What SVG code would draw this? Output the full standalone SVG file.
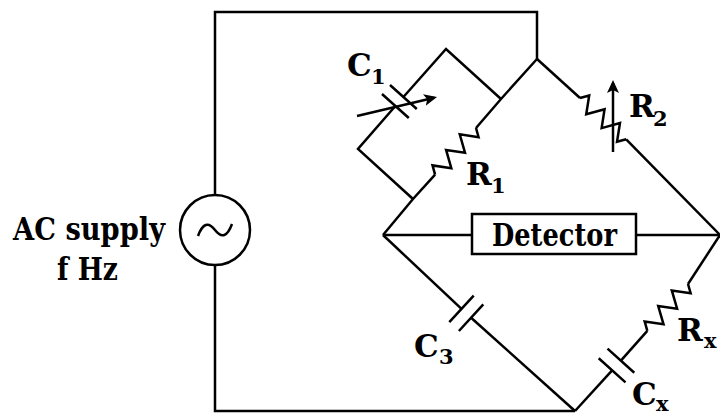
<svg xmlns="http://www.w3.org/2000/svg" xmlns:xlink="http://www.w3.org/1999/xlink" width="720" height="416" viewBox="0 0 720 416">
<style>
.w{fill:none;stroke:#000;stroke-width:2.5;stroke-linejoin:miter;stroke-linecap:butt}
.t{font-family:"DejaVu Serif","Liberation Serif",serif;font-weight:bold;font-size:31px;fill:#000}
.s{font-family:"DejaVu Serif","Liberation Serif",serif;font-weight:bold;font-size:21px;fill:#000}
</style>
<defs>
<path id="zig" d="M0,0 L5.2,-8 L15.5,8 L25.8,-8 L36.2,8 L46.5,-8 L56.8,8 L62,0"/>
<marker id="ah" markerUnits="userSpaceOnUse" markerWidth="14" markerHeight="12" refX="10" refY="6" orient="auto">
<path d="M0,0 L13,6 L0,12 L3,6 z" fill="#000"/>
</marker>
</defs>
<rect width="720" height="416" fill="#fff"/>

<g id="connectors" class="w">
<path d="M537,59 V12 H215 V195"/>
<path d="M215,265 V411 H575"/>
<path d="M537,59 L501,99 L476,128"/>
<path d="M435.1,174.6 L413,199 L383,235"/>
<path d="M501,99 L446,49 L403.4,97"/>
<path d="M395.4,106 L358,149 L413,199"/>
<path d="M537,59 L580,98"/>
<path d="M626.2,139.3 L720,235"/>
<path d="M383,235 H472"/>
<path d="M636,235 H720"/>
<path d="M383,235 L461.5,308.9"/>
<path d="M471.1,317.7 L575,411"/>
<path d="M575,411 L612.1,370.3"/>
<path d="M620.9,360.7 L647.3,330.8"/>
<path d="M688,284 L720,235"/>
</g>

<g id="source">
<circle cx="215" cy="230" r="35" class="w"/>
<path class="w" d="M198,236 Q205,217 215,230 Q225,243 232,224"/>
<text class="t" x="13" y="240" textLength="152" lengthAdjust="spacingAndGlyphs">AC supply</text>
<text class="t" x="57" y="280" textLength="61" lengthAdjust="spacingAndGlyphs">f Hz</text>
</g>

<g id="C1">
<path class="w" d="M390,85 L416.8,109 M382,94 L408.8,118"/>
<path class="w" d="M357,116 L434.1,97.7" marker-end="url(#ah)"/>
<text class="t" x="347" y="76">C</text>
<text class="s" x="371" y="84">1</text>
</g>

<g id="R1">
<use xlink:href="#zig" class="w" transform="translate(476,128) rotate(131.3)"/>
<text class="t" x="466" y="185">R</text>
<text class="s" x="491" y="193">1</text>
</g>

<g id="R2">
<use xlink:href="#zig" class="w" transform="translate(580,98) rotate(41.8)"/>
<path class="w" d="M613,152 V83" marker-end="url(#ah)"/>
<text class="t" x="629" y="117">R</text>
<text class="s" x="653" y="126">2</text>
</g>

<g id="detector">
<rect x="472" y="214" width="164" height="40" class="w"/>
<text class="t" x="492" y="246" textLength="125" lengthAdjust="spacingAndGlyphs">Detector</text>
</g>

<g id="C3">
<path class="w" d="M473.7,295.6 L449.3,322.2 M483.3,304.4 L458.9,331"/>
<text class="t" x="414" y="357">C</text>
<text class="s" x="439" y="364">3</text>
</g>

<g id="Cx">
<path class="w" d="M598.7,358.2 L625.5,382.4 M607.5,348.6 L634.3,372.8"/>
<text class="t" x="632" y="405">C</text>
<text class="s" x="656" y="411">x</text>
</g>

<g id="Rx">
<use xlink:href="#zig" class="w" transform="translate(688,284) rotate(131)"/>
<text class="t" x="677" y="341">R</text>
<text class="s" x="704" y="348">x</text>
</g>
</svg>
